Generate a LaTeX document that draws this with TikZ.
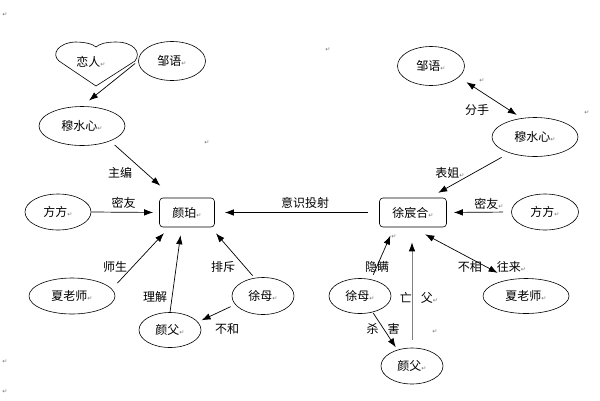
\documentclass[tikz,border=0pt]{standalone}
\usepackage{fontspec}
\setmainfont{Noto Sans CJK SC}
\newfontfamily\symf{DejaVu Sans}
\usetikzlibrary{shapes.geometric,arrows.meta}
\newcommand\pmk{{\symf\fontsize{6}{7}\selectfont\textcolor{black!55}{↵}}}
\begin{document}
\begin{tikzpicture}[x=1pt,y=-1pt,
  txt/.style={font=\fontsize{12}{14}\selectfont, inner sep=0pt},
  ell/.style={ellipse, draw, line width=0.6pt, inner sep=0pt, font=\fontsize{12}{14}\selectfont},
  rbox/.style={rectangle, rounded corners=3.5pt, draw, line width=0.6pt, inner sep=0pt, font=\fontsize{12}{14}\selectfont},
  arr/.style={-{Latex[length=9pt,width=6.5pt]}, line width=0.7pt},
  darr/.style={{Latex[length=9pt,width=6.5pt]}-{Latex[length=9pt,width=6.5pt]}, line width=0.7pt},
  garr/.style={-{Latex[length=9pt,width=6.5pt,color=black]}, line width=0.8pt, draw=gray},
  pmark/.style={inner sep=0pt, font=\symf\fontsize{6}{7}\selectfont, text=black!55}]
\useasboundingbox[fill=white] (0,0) rectangle (600,400);

% left nodes
\node[txt] (heart) at (91,62) {恋人\pmk};
\draw[line width=0.6pt] (96,86) -- (59,61) .. controls (51,54) and (58,43) .. (75,42)
  .. controls (85,42) and (93,44) .. (96,47) .. controls (99,44) and (106,42) .. (116,42)
  .. controls (133,42) and (142,52) .. (135,61) -- cycle;
\node[ell, minimum width=67pt, minimum height=39pt] (yuL) at (172,61) {邹语\pmk};
\node[ell, minimum width=86pt, minimum height=39pt] (muL) at (82,126) {穆水心\pmk};
\node[rbox, minimum width=55pt, minimum height=29pt] (gupo) at (187,212.5) {颜珀\pmk};
\node[ell, minimum width=66pt, minimum height=36pt] (ffL) at (58,212) {方方\pmk};
\node[ell, minimum width=86pt, minimum height=36pt] (xiaL) at (72,296) {夏老师\pmk};
\node[ell, minimum width=62pt, minimum height=35pt] (yanfuL) at (170,330) {颜父\pmk};
\node[ell, minimum width=62pt, minimum height=37pt] (xumuL) at (263,296) {徐母\pmk};

% right nodes
\node[ell, minimum width=67pt, minimum height=39pt] (yuR) at (431,66) {邹语\pmk};
\node[ell, minimum width=86pt, minimum height=39pt] (muR) at (535,137) {穆水心\pmk};
\node[rbox, minimum width=67pt, minimum height=29pt] (xu) at (413,212.5) {徐宸合\pmk};
\node[ell, minimum width=67pt, minimum height=36pt] (ffR) at (545,212) {方方\pmk};
\node[ell, minimum width=86pt, minimum height=35pt] (xiaR) at (526,296) {夏老师\pmk};
\node[ell, minimum width=62pt, minimum height=35pt] (xumuR) at (360,296) {徐母\pmk};
\node[ell, minimum width=62pt, minimum height=36pt] (yanfuR) at (412,366) {颜父\pmk};

% left connectors
\draw[arr, shorten <=4pt, shorten >=9pt] (yuL.west) -- (muL.north);
\draw[arr, shorten <=6pt, shorten >=18pt] (muL.-28) -- (gupo.132);
\draw[arr, shorten >=6pt] (ffL.east) -- (gupo.west);
\draw[arr, shorten <=11pt, shorten >=10pt] (xu.west) -- (gupo.east);
\draw[arr, shorten <=8pt, shorten >=8pt] (xiaL.10) -- (gupo.220);
\draw[arr, shorten >=8pt] (yanfuL.north) -- (gupo.250);
\draw[arr, shorten <=3pt, shorten >=8pt] (xumuL.115) -- (gupo.-32);
\draw[arr, shorten <=5pt, shorten >=4pt] (xumuL.197) -- (yanfuL.16);

% right connectors
\draw[darr, shorten <=9pt, shorten >=6pt] (yuR.-22) -- (muR.125);
\draw[arr, shorten <=9pt, shorten >=10pt] (muR.212) -- (xu.42);
\draw[arr, shorten <=8pt, shorten >=7pt] (ffR.west) -- (xu.east);
\draw[darr, shorten <=15pt, shorten >=14pt] (xu.266) -- (xiaR.134);
\draw[arr, shorten <=5pt, shorten >=9pt] (xumuR.56) -- (xu.218);
\draw[arr, shorten <=1pt, shorten >=3pt] (xumuR.-52) -- (yanfuR.132);
\draw[garr, shorten <=8pt, shorten >=15pt] (yanfuR.north) -- (yanfuR.north |- xu.south);

% labels
\node[txt] (l1) at (120,173) {主编};
\node[txt] (l2) at (123.5,203) {密友};
\node[txt] (l3) at (305,203) {意识投射};
\node[txt] (l4) at (115,267) {师生};
\node[txt] (l5) at (155,297) {理解};
\node[txt] (l6) at (223,267) {排斥};
\node[txt] (l7) at (227,329) {不和};
\node[txt] (r1) at (477,110) {分手};
\node[txt] (r2) at (450,173) {表姐\pmk};
\node[txt] (r3) at (489,204) {密友\pmk};
\node[txt] (r4) at (377,267) {隐瞒};
\node[txt] (r5) at (492,267) {不相\hspace{15pt}往来\pmk};
\node[txt] (r6) at (419,298) {亡\hspace{9pt}父\pmk};
\node[txt] (r7) at (383,329) {杀\hspace{9pt}害};

% paragraph marks
\node[pmark] (m1) at (5,15) {↵};
\node[pmark] (m2) at (207,143) {↵};
\node[pmark] (m3) at (328,50) {↵};
\node[pmark] (m4) at (482,81) {↵};
\node[pmark] (m5) at (587,113) {↵};
\node[pmark] (m6) at (5,362) {↵};
\node[pmark] (m7) at (5,392) {↵};
\node[pmark] (m8) at (435,332) {↵};
\node[pmark] (m9) at (394,237) {↵};
\end{tikzpicture}
\end{document}
